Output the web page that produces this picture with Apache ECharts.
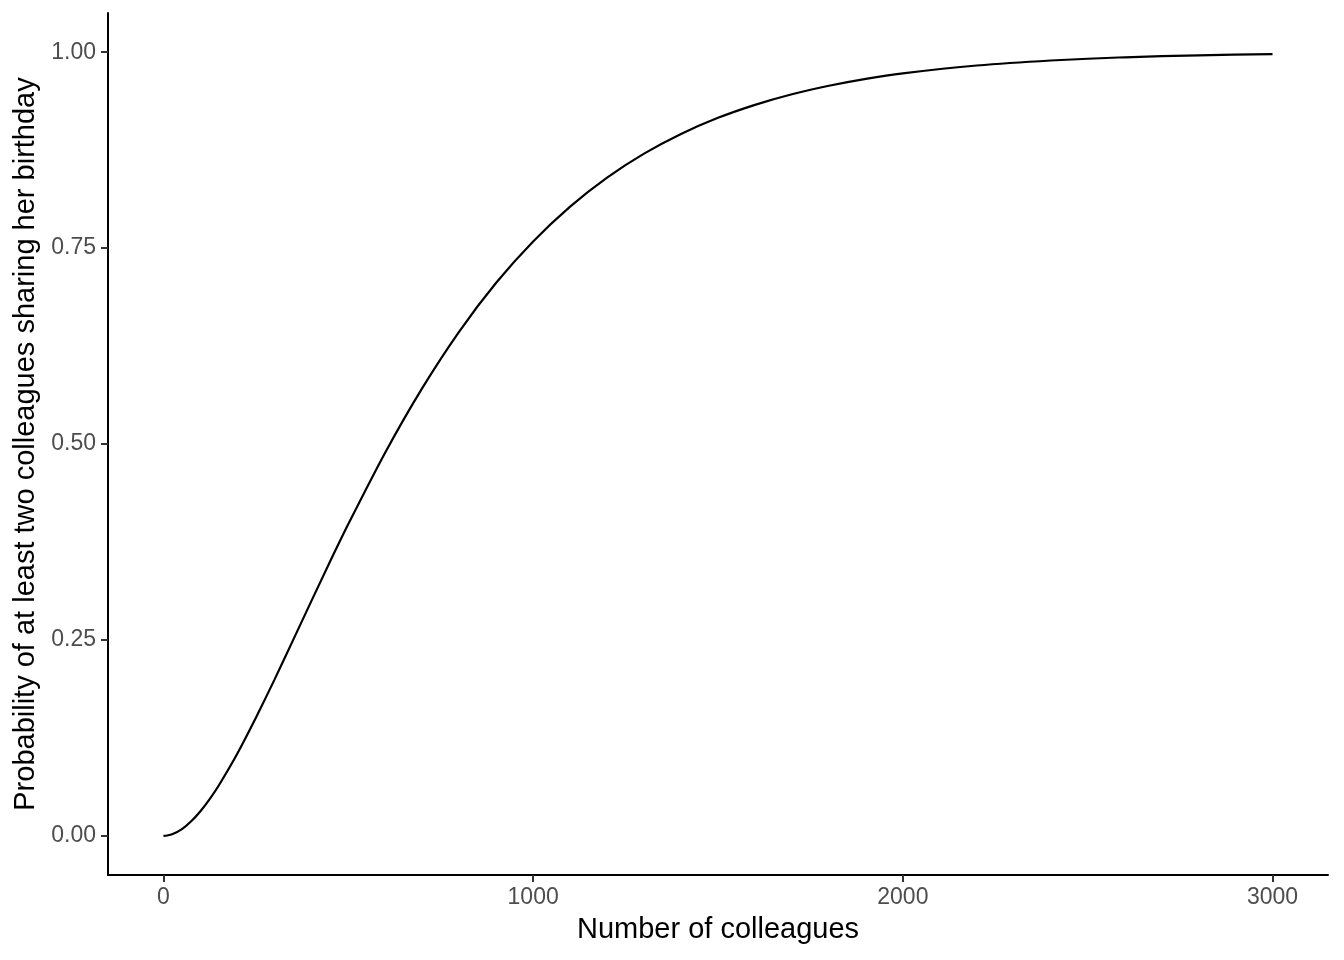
<!DOCTYPE html>
<html>
<head>
<meta charset="utf-8">
<script src="https://cdn.jsdelivr.net/npm/echarts@6/dist/echarts.min.js"></script>
<style>
  html, body { margin: 0; padding: 0; background: #ffffff; }
  #chart { width: 1344px; height: 960px; }
</style>
</head>
<body>
<div id="chart"></div>
<script>
const colleagues = [0, 10, 25, 50, 75, 100, 125, 150, 200, 250, 300, 350, 400, 450, 500, 600, 700, 800, 900, 1000, 1100, 1200, 1300, 1400, 1500, 1600, 1700, 1800, 1900, 2000, 2200, 2400, 2600, 2800, 3000];
const probability = [0, 0.0004, 0.0022, 0.0085, 0.0185, 0.0314, 0.0468, 0.0645, 0.1050, 0.1506, 0.1990, 0.2491, 0.2995, 0.3493, 0.3978, 0.4892, 0.5713, 0.6435, 0.7057, 0.7584, 0.8029, 0.8399, 0.8705, 0.8956, 0.9162, 0.9328, 0.9463, 0.9572, 0.9660, 0.9730, 0.9830, 0.9894, 0.9935, 0.9960, 0.9975];
const xTicks = [0, 1000, 2000, 3000];
const yTicks = [0, 0.25, 0.5, 0.75, 1.0];
const xTitle = 'Number of colleagues';
const yTitle = 'Probability of at least two colleagues sharing her birthday';

const font = '"Liberation Sans", Arial, Helvetica, sans-serif';
const chart = echarts.init(document.getElementById('chart'), null, { renderer: 'canvas' });
chart.setOption({
  backgroundColor: '#ffffff',
  animation: false,
  grid: { left: 108, right: 16, top: 13, bottom: 85, containLabel: false },
  xAxis: {
    type: 'value',
    min: -150,
    max: 3150,
    name: xTitle,
    nameLocation: 'middle',
    nameGap: 40,
    nameTextStyle: { fontFamily: font, fontSize: 29, color: '#000000' },
    axisLine: { show: true, onZero: false, lineStyle: { color: '#000000', width: 2 } },
    axisTick: { show: true, customValues: xTicks, length: 7, lineStyle: { color: '#333333', width: 2 } },
    axisLabel: { customValues: xTicks, fontFamily: font, fontSize: 23, color: '#4D4D4D', margin: 11,
      formatter: v => String(v) },
    splitLine: { show: false }
  },
  yAxis: {
    type: 'value',
    min: -0.05,
    max: 1.05,
    name: yTitle,
    nameLocation: 'middle',
    nameRotate: 90,
    nameGap: 68,
    nameTextStyle: { fontFamily: font, fontSize: 29, color: '#000000' },
    axisLine: { show: true, onZero: false, lineStyle: { color: '#000000', width: 2 } },
    axisTick: { show: true, customValues: yTicks, length: 7, lineStyle: { color: '#333333', width: 2 } },
    axisLabel: { customValues: yTicks, fontFamily: font, fontSize: 23, color: '#4D4D4D', margin: 12,
      formatter: v => v.toFixed(2) },
    splitLine: { show: false }
  },
  series: [{
    type: 'line',
    data: colleagues.map((c, i) => [c, probability[i]]),
    smooth: 0.2,
    showSymbol: false,
    symbol: 'none',
    lineStyle: { color: '#000000', width: 2.2 },
    z: 3
  }]
});
</script>
</body>
</html>
